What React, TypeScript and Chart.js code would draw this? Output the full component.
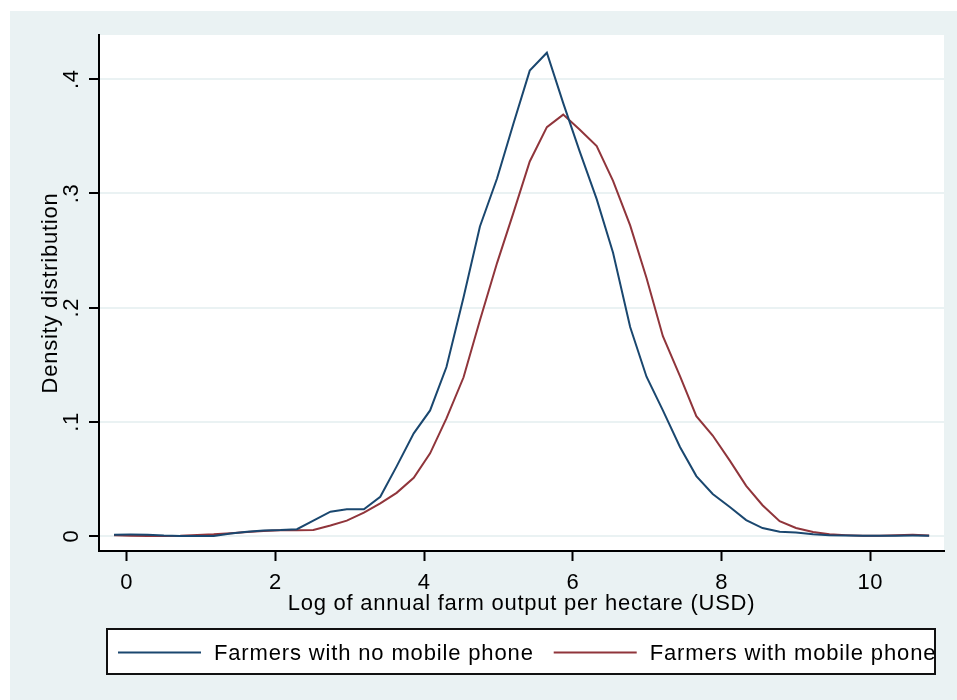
import React, { useEffect, useRef } from 'react';
import { Chart, registerables } from 'chart.js';

Chart.register(...registerables);

const xGrid = [
  -0.17, 0.05, 0.28, 0.5, 0.72, 0.95, 1.17, 1.4, 1.62, 1.84,
  2.07, 2.29, 2.51, 2.74, 2.96, 3.19, 3.41, 3.63, 3.86, 4.08,
  4.3, 4.53, 4.75, 4.98, 5.2, 5.42, 5.65, 5.87, 6.09, 6.32,
  6.54, 6.77, 6.99, 7.21, 7.44, 7.66, 7.88, 8.11, 8.33, 8.55,
  8.78, 9.0, 9.23, 9.45, 9.67, 9.9, 10.12, 10.34, 10.57, 10.79,
];

const noPhone = [
  0.0012, 0.0013, 0.0012, 0.0004, 0.0001, 0.0, 0.0001, 0.0022, 0.0038, 0.0049,
  0.0053, 0.006, 0.0135, 0.0213, 0.0234, 0.0234, 0.0344, 0.061, 0.0899, 0.11,
  0.148, 0.209, 0.271, 0.313, 0.361, 0.4075, 0.4232, 0.379, 0.337, 0.295,
  0.248, 0.183, 0.1395, 0.11, 0.078, 0.0525, 0.0368, 0.0254, 0.014, 0.007,
  0.0037, 0.0031, 0.0015, 0.0006, 0.0004, 0.0003, 0.0003, 0.0002, 0.0004, 0.0003,
];

const withPhone = [
  0.0006, 0.0002, 0.0, 0.0001, 0.0003, 0.0009, 0.0015, 0.0025, 0.0035, 0.0045,
  0.005, 0.005, 0.0053, 0.0092, 0.0135, 0.0205, 0.0286, 0.0378, 0.051, 0.0724,
  0.103, 0.139, 0.189, 0.239, 0.283, 0.328, 0.358, 0.369, 0.356, 0.3415,
  0.311, 0.272, 0.226, 0.175, 0.14, 0.105, 0.088, 0.066, 0.044, 0.027,
  0.013, 0.007, 0.0035, 0.0015, 0.0008, 0.0003, 0.0002, 0.0006, 0.0012, 0.0005,
];

const seriesLabels = ['Farmers with no mobile phone', 'Farmers with mobile phone'];
const seriesColors = ['#1A476F', '#90353B'];
const xTicks = [0, 2, 4, 6, 8, 10];
const yTicks = [0, 0.1, 0.2, 0.3, 0.4];
const yTickLabels = ['0', '.1', '.2', '.3', '.4'];
const xTitle = 'Log of annual farm output per hectare (USD)';
const yTitle = 'Density distribution';

const FONT = '"Liberation Sans", Arial, sans-serif';
const FONT_SIZE = 22;
const LETTER_SPACING = '0.75px';

const setSpacing = (chart: any) => {
  const ctx = chart.ctx as any;
  if (ctx && 'letterSpacing' in ctx) ctx.letterSpacing = LETTER_SPACING;
};

const textSpacing = {
  id: 'textSpacing',
  beforeUpdate: setSpacing,
  beforeLayout: setSpacing,
  beforeDraw: setSpacing,
};

const plotBackground = {
  id: 'plotBackground',
  beforeDraw(chart: any) {
    const { ctx, chartArea } = chart;
    ctx.save();
    ctx.fillStyle = '#FFFFFF';
    ctx.fillRect(chartArea.left, chartArea.top, chartArea.right - chartArea.left, chartArea.bottom - chartArea.top);
    ctx.restore();
  },
};

const boxLegend = {
  id: 'boxLegend',
  afterDraw(chart: any) {
    const { ctx, chartArea, scales } = chart;
    const left = chartArea.left + 8;
    const right = chartArea.right - 9;
    const top = scales.x.bottom + 14;
    const height = 45;
    ctx.save();
    if ('letterSpacing' in ctx) ctx.letterSpacing = '0.85px';
    ctx.fillStyle = '#FFFFFF';
    ctx.fillRect(left, top, right - left, height);
    ctx.lineWidth = 2;
    ctx.strokeStyle = '#111111';
    ctx.strokeRect(left, top, right - left, height);
    const cy = top + height / 2 + 1;
    ctx.font = `${FONT_SIZE}px ${FONT}`;
    ctx.textBaseline = 'middle';
    ctx.textAlign = 'left';
    let x = left + 11;
    chart.data.datasets.forEach((ds: any) => {
      ctx.strokeStyle = ds.borderColor;
      ctx.lineWidth = 2;
      ctx.beginPath();
      ctx.moveTo(x, cy);
      ctx.lineTo(x + 83, cy);
      ctx.stroke();
      ctx.fillStyle = '#000000';
      ctx.fillText(ds.label, x + 96, cy + 1.5);
      x = x + 96 + ctx.measureText(ds.label).width + 20;
    });
    ctx.restore();
  },
};

export default function App() {
  const canvasRef = useRef<HTMLCanvasElement | null>(null);

  useEffect(() => {
    if (!canvasRef.current) return;
    const series = [noPhone, withPhone];
    const chart = new Chart(canvasRef.current, {
      type: 'line',
      data: {
        datasets: series.map((vals, i) => ({
          label: seriesLabels[i],
          data: xGrid.map((x, j) => ({ x, y: vals[j] })),
          borderColor: seriesColors[i],
          backgroundColor: seriesColors[i],
          borderWidth: 2,
          pointRadius: 0,
          tension: 0,
          fill: false,
        })),
      },
      options: {
        animation: false,
        responsive: false,
        devicePixelRatio: 1,
        layout: { padding: { left: 0, top: 35, right: 13, bottom: 85 } },
        plugins: {
          legend: { display: false },
          tooltip: { enabled: false },
        },
        scales: {
          x: {
            type: 'linear',
            min: -0.372,
            max: 10.99,
            afterBuildTicks: (scale: any) => {
              scale.ticks = xTicks.map((v) => ({ value: v }));
            },
            afterFit: (scale: any) => {
              scale.height = 64;
            },
            grid: {
              drawOnChartArea: false,
              drawTicks: true,
              tickLength: 10,
              tickColor: '#000000',
              tickWidth: 2,
            },
            border: { display: true, color: '#000000', width: 2 },
            ticks: {
              color: '#000000',
              font: { family: FONT, size: FONT_SIZE },
              padding: 9,
              maxRotation: 0,
              minRotation: 0,
              callback: (v: any) => String(v),
            },
            title: {
              display: true,
              text: xTitle,
              color: '#000000',
              font: { family: FONT, size: FONT_SIZE, lineHeight: 1 },
              padding: { top: 0, bottom: 0 },
            },
          },
          y: {
            type: 'linear',
            min: -0.0131,
            max: 0.4387,
            afterBuildTicks: (scale: any) => {
              scale.ticks = yTicks.map((v) => ({ value: v }));
            },
            afterFit: (scale: any) => {
              scale.width = 99;
            },
            grid: {
              color: '#EAF2F3',
              lineWidth: 2,
              drawTicks: true,
              tickLength: 10,
              tickColor: '#000000',
              tickWidth: 2,
            },
            border: { display: true, color: '#000000', width: 2 },
            ticks: {
              color: '#000000',
              font: { family: FONT, size: FONT_SIZE },
              padding: 7,
              minRotation: 90,
              maxRotation: 90,
              crossAlign: 'center',
              callback: (v: any) => {
                const idx = yTicks.indexOf(Number(v));
                return idx >= 0 ? yTickLabels[idx] : '';
              },
            },
            title: {
              display: true,
              text: yTitle,
              color: '#000000',
              font: { family: FONT, size: FONT_SIZE, lineHeight: 1 },
              padding: { top: 40, bottom: 0 },
            },
          },
        },
      },
      plugins: [textSpacing, plotBackground, boxLegend],
    } as any);
    return () => chart.destroy();
  }, []);

  return (
    <div style={{ position: 'absolute', left: 0, top: 0, width: 957, height: 700, background: '#FFFFFF', overflow: 'hidden' }}>
      <div style={{ position: 'absolute', left: 10, top: 11, width: 947, height: 689, background: '#EAF2F3' }} />
      <canvas
        ref={canvasRef}
        width={957}
        height={700}
        style={{ position: 'absolute', left: 0, top: 0, width: 957, height: 700 }}
      />
    </div>
  );
}
